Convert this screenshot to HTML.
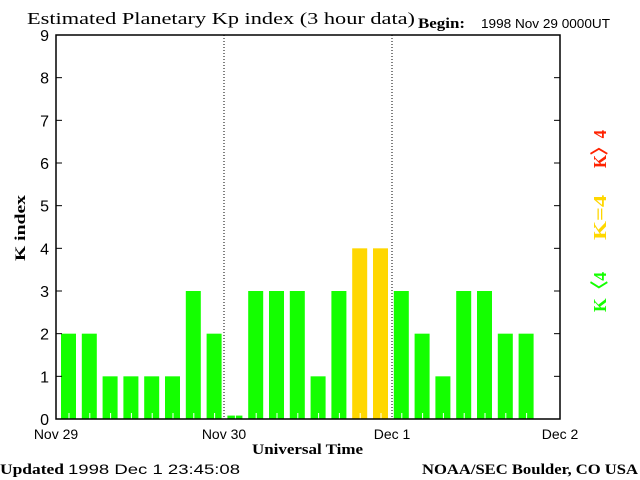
<!DOCTYPE html>
<html><head><meta charset="utf-8"><style>
body{margin:0;background:#fff;}
svg{display:block;}
.t{font-family:"Liberation Serif",serif;font-weight:bold;}
.s{font-family:"Liberation Sans",sans-serif;}
</style></head><body>
<svg width="640" height="480">
<text x="27" y="24" font-size="17" font-family="Liberation Serif, serif" textLength="388" lengthAdjust="spacingAndGlyphs">Estimated Planetary Kp index (3 hour data)</text>
<text class="t" x="418" y="28" font-size="15" textLength="47" lengthAdjust="spacingAndGlyphs">Begin:</text>
<text class="s" x="481" y="28" font-size="13" textLength="129" lengthAdjust="spacingAndGlyphs">1998 Nov 29 0000UT</text>
<g id="plot"></g>
<rect x="56" y="35" width="504" height="384" fill="none" stroke="#000" stroke-width="1.5"/>
<text class="t" x="25" y="228" font-size="15" transform="rotate(-90 25 228)" text-anchor="middle" textLength="66" lengthAdjust="spacingAndGlyphs">K index</text>
<text class="t" x="252" y="454" font-size="15" textLength="111" lengthAdjust="spacingAndGlyphs">Universal Time</text>
<text class="t" x="0" y="474" font-size="15" textLength="64" lengthAdjust="spacingAndGlyphs">Updated</text>
<text class="s" x="68" y="474" font-size="14" textLength="172" lengthAdjust="spacingAndGlyphs">1998 Dec  1 23:45:08</text>
<text class="t" x="422" y="474" font-size="15" textLength="216" lengthAdjust="spacingAndGlyphs">NOAA/SEC Boulder, CO USA</text>
<text class="t" x="606" y="168" font-size="18" fill="#ff2200" textLength="38" lengthAdjust="spacingAndGlyphs" transform="rotate(-90 606 168)">K〉4</text>
<text class="t" x="606" y="240" font-size="18" fill="#ffd700" textLength="45" lengthAdjust="spacingAndGlyphs" transform="rotate(-90 606 240)">K=4</text>
<text class="t" x="606" y="312" font-size="18" fill="#14ff00" textLength="40" lengthAdjust="spacingAndGlyphs" transform="rotate(-90 606 312)">K〈4</text>
</svg>
<script>
const kpValues=[2,2,1,1,1,1,3,2, 0.08,3,3,3,1,3,4,4, 3,2,1,3,3,2,2];
const dayLabels=["Nov 29","Nov 30","Dec 1","Dec 2"];
const yTicks=[0,1,2,3,4,5,6,7,8,9];
const NS="http://www.w3.org/2000/svg";
const L=56,R=560,T=35,B=419;
const x=i=>L+5+i*20.8;
const y=v=>B-v*(B-T)/9;
const g=document.getElementById('plot');
function mk(t,a){const e=document.createElementNS(NS,t);for(const k in a)e.setAttribute(k,a[k]);g.appendChild(e);return e;}
kpValues.forEach((v,i)=>{
  const c=v>4?'#ff2200':(v>=4?'#ffd700':'#14ff00');
  const r=mk('rect',{x:x(i),y:y(v),width:15,height:B-y(v),fill:c});
  
  
  const tk=mk('line',{x1:x(i)+8,x2:x(i)+8,y1:B,y2:B-6,stroke:'#fff'});
  
  
});
yTicks.forEach(v=>{
  mk('line',{x1:L,x2:L+6,y1:y(v),y2:y(v),stroke:'#000'});
  mk('line',{x1:R-6,x2:R,y1:y(v),y2:y(v),stroke:'#000'});
  const t=mk('text',{x:49,y:y(v)+6,'font-size':16,'text-anchor':'end','font-family':'Liberation Sans, sans-serif'});
  t.textContent=v;
  
  
});
dayLabels.forEach((d,i)=>{
  const px=L+i*(R-L)/3;
  if(i>0&&i<3){const l=mk('line',{x1:px,x2:px,y1:T,y2:B,stroke:'#000','stroke-dasharray':'1,2'});
    
    }
  const t=mk('text',{x:px,y:439,'font-size':14,'text-anchor':'middle','font-family':'Liberation Sans, sans-serif'});
  t.textContent=d;
  
  
});
</script>
</body></html>
